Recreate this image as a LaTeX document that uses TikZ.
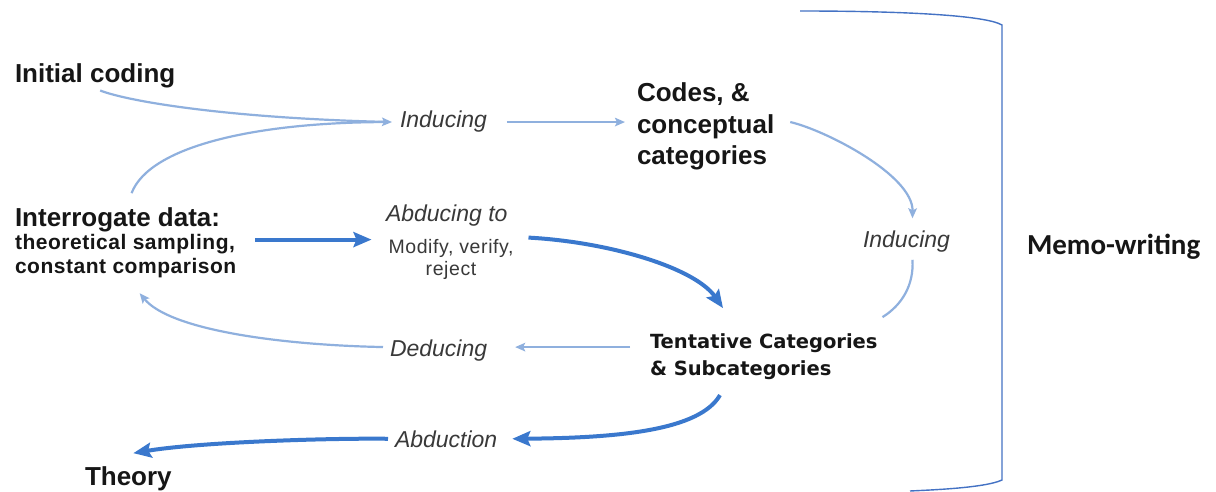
\documentclass[tikz,border=0pt]{standalone}
\usepackage{fontspec}
\setmainfont{Liberation Sans}
\newfontfamily\tahomafont{DejaVu Sans}
\newfontfamily\calibrifont{Carlito}
\usetikzlibrary{arrows.meta,calc}
\definecolor{ink}{HTML}{161616}
\definecolor{softblue}{HTML}{8FB0DE}
\definecolor{strongblue}{HTML}{3A78CD}
\definecolor{bracketblue}{HTML}{4472C4}

\begin{document}
\begin{tikzpicture}[x=1pt,y=-1pt,
  lab/.style={inner sep=0pt, outer sep=0pt, text=ink, anchor=base west},
  head/.style={lab, font=\fontsize{26}{31.5}\selectfont\bfseries},
  verb/.style={lab, text=ink!85, font=\fontsize{23}{27}\selectfont\itshape},
  soft/.style={draw=softblue, line width=2.2pt, -{Stealth[length=10pt,width=8.5pt,inset=2pt]}},
  softline/.style={draw=softblue, line width=2.2pt},
  strong/.style={draw=strongblue, line width=4pt, -{Stealth[length=18pt,width=15pt,inset=3pt]}},
]
\fill[white] (0,0) rectangle (1216,492);
\useasboundingbox (0,0) rectangle (1216,492);

% text blocks
\node[head] (init) at (15,83) {Initial coding};
\node[head] (intg) at (15,226) {Interrogate data:};
\node[lab, font=\fontsize{21}{24}\selectfont\bfseries\addfontfeatures{LetterSpace=2.5}] (sub) at (15,249)
  {\begin{tabular}[t]{@{}l@{}}theoretical sampling,\\ constant comparison\end{tabular}};
\node[verb] (ind1) at (400,128) {Inducing};
\node[head] (codes) at (637,102)
  {\begin{tabular}[t]{@{}l@{}}Codes, \&\\ conceptual\\ categories\end{tabular}};
\node[verb] (abd) at (386,222) {Abducing to};
\node[lab, anchor=base, text=ink!85, font=\fontsize{19.5}{22}\selectfont\addfontfeatures{LetterSpace=3}] (mod) at (451,253)
  {\begin{tabular}[t]{@{}c@{}}Modify, verify,\\ reject\end{tabular}};
\node[verb] (ind2) at (863,247) {Inducing};
\node[lab, font=\fontsize{19.5}{27}\selectfont\tahomafont\bfseries] (tent) at (650,348)
  {\begin{tabular}[t]{@{}l@{}}Tentative Categories\\ \& Subcategories\end{tabular}};
\node[verb] (ded) at (390,356) {Deducing};
\node[verb] (abn) at (395,447) {Abduction};
\node[head] (theo) at (85,485) {Theory};
\node[lab, font=\fontsize{29}{34}\selectfont\calibrifont\bfseries] (memo) at (1027,254) {Memo-writing};

% inductive loop (light arrows)
\draw[soft] ($(init.south)+(5,2)$) .. controls (130,102) and (230,118) .. ($(ind1.west)+(-8,0)$);
\draw[softline] ($(intg.north)+(14,-14)$) .. controls (150,145) and (260,122) .. ($(ind1.west)+(-12,0)$);
\draw[soft] ($(ind1.east)+(20,0)$) -- ($(ind1.east -| codes.west)+(-12,0)$);
\draw[soft] ($(codes.east |- ind1.east)+(16,0)$) .. controls (825,130) and (913,175) .. ($(ind2.north)+(6,-12)$);
\draw[softline] ($(ind2.south)+(6,8)$) .. controls (914,285) and (902,305) .. ($(tent.north east)+(5,-12)$);
\draw[soft] ($(tent.north west)+(-20,18)$) -- ($(tent.north west -| ded.east)+(28,18)$);
\draw[soft] ($(ded.west)+(-7,-3)$) .. controls (280,345) and (170,330) .. ($(sub.south)+(14,13)$);

% abductive path (heavy arrows)
\draw[strong] ($(sub.east |- mod.north)+(19,2)$) -- ($(mod.north west)+(-17,2)$);
\draw[strong] ($(mod.north east)+(15,0)$) .. controls (610,242) and (695,268) .. ($(tent.north west)+(73,-21)$);
\draw[strong] ($(tent.south west)+(70,12)$) .. controls (700,430) and (620,438) .. ($(abn.east)+(15,0)$);
\draw[strong] ($(abn.west)+(-7,0)$) .. controls (330,438) and (200,442) .. ($(theo.north)+(5,-13)$);

% memo-writing bracket
\draw[bracketblue, line width=1.4pt] (800,11) .. controls (900,11) and (985,15) .. (1002,25)
  -- (1002,480) .. controls (985,488) and (930,490) .. (910,491);
\end{tikzpicture}
\end{document}
